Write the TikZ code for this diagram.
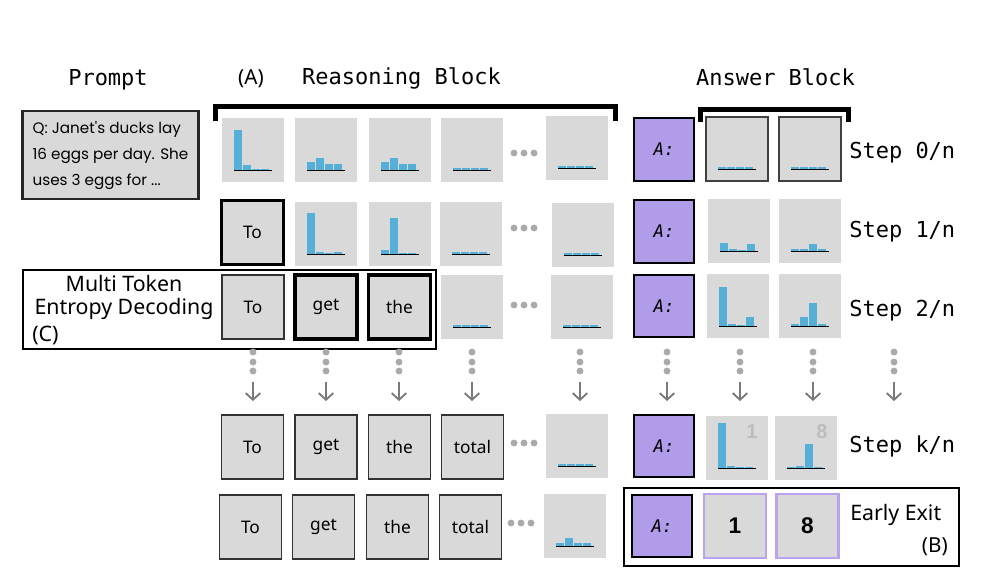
\documentclass[tikz,border=0pt]{standalone}
\usepackage{fontspec}
\setmainfont{Noto Sans}
\setmonofont{DejaVu Sans Mono}
\newfontfamily\promptfont{Poppins}
\newfontfamily\digitfont{Liberation Sans}
\usetikzlibrary{arrows.meta}

\definecolor{cellgray}{HTML}{D9D9D9}
\definecolor{barblue}{HTML}{56AFD6}
\definecolor{answerviolet}{HTML}{B19CE9}
\definecolor{exitviolet}{HTML}{B9A3EF}
\definecolor{dotgray}{HTML}{AAAAAA}
\definecolor{arrowgray}{HTML}{7A7A7A}
\definecolor{hintgray}{HTML}{BDBDBD}

\tikzset{
  cell/.style={fill=cellgray, minimum width=46.5pt, minimum height=48pt, inner sep=0pt},
  token/.style={cell, draw=black!80, line width=1.1pt, font=\fontsize{13}{13}\selectfont},
  picked/.style={cell, draw=black, line width=2.6pt, font=\fontsize{13}{13}\selectfont},
  framedcell/.style={cell, draw=black!75, line width=1.1pt},
  answer/.style={fill=answerviolet, draw=black, line width=1.7pt, minimum width=45pt, minimum height=47pt, inner sep=0pt, font=\ttfamily\itshape\fontsize{13}{13}\selectfont},
  exitcell/.style={cell, draw=exitviolet, line width=1.6pt, font=\digitfont\bfseries\fontsize{17}{17}\selectfont},
  hint/.style={text=hintgray, font=\digitfont\bfseries\fontsize{15}{15}\selectfont, inner sep=0pt},
  title/.style={font=\ttfamily\fontsize{16.5}{16.5}\selectfont},
  steplabel/.style={title, anchor=west, inner sep=0pt},
  tag/.style={font=\fontsize{15.5}{15.5}\selectfont, inner sep=0pt},
  bracket/.style={line width=3.6pt},
  frame/.style={line width=1.7pt},
  flow/.style={draw=arrowgray, line width=1.4pt, -{Straight Barb[length=5pt,width=11pt]}},
}

% four bars and a base line under a cell
\newcommand{\hist}[5]{%
  \begin{scope}[shift={(#1)}]
    \fill[barblue] (-19,20.5) rectangle ++(8,-#2);
    \fill[barblue] (-10,20.5) rectangle ++(8,-#3);
    \fill[barblue] (-1,20.5) rectangle ++(8,-#4);
    \fill[barblue] (8,20.5) rectangle ++(8,-#5);
    \draw[line width=0.8pt] (-19,20.5) -- (19,20.5);
  \end{scope}}

\begin{document}
\begin{tikzpicture}[x=0.75pt, y=-0.75pt]
\useasboundingbox (0,0) rectangle (984,586);

% titles
\node[title] (prompttitle) at (108,80) {Prompt};
\node[tag] (tagA) at (251,79) {(A)};
\node[title] (reasontitle) at (401.5,78) {Reasoning Block};
\node[title] (answertitle) at (775.5,77) {Answer Block};

\draw[bracket] (215.5,121) -- (215.5,106.5) -- (615.5,106.5) -- (615.5,121);
\draw[bracket] (700.5,122) -- (700.5,109.5) -- (848.5,109.5) -- (848.5,122);

% prompt
\node[draw=black!85, line width=1.8pt, fill=cellgray, minimum width=132pt, minimum height=66pt,
      align=left, inner sep=4pt, font=\promptfont\fontsize{11.4}{19.5}\selectfont]
  (prompt) at (110.5,155) {Q: Janet's ducks lay\\16 eggs per day. She\\uses 3 eggs for ...};

% frames (C) and (B)
\draw[frame] (23,270) rectangle (436,349);
\draw[frame] (624,488) rectangle (959,566);
\node[font=\fontsize{16}{17}\selectfont, align=center, inner sep=0pt] (mtlabel) at (124,297.5) {Multi Token\\Entropy Decoding};
\node[font=\fontsize{16}{16}\selectfont, anchor=west, inner sep=0pt] (tagC) at (32,335) {(C)};

% reasoning block
\foreach \x [count=\i] in {253,326,400,472} \node[cell] (r0c\i) at (\x,150) {};
\node[cell] (r0c5) at (577,148) {};

\node[picked] (r1c1) at (252.5,232.5) {To};
\foreach \x [count=\i from 2] in {326,400,471} \node[cell] (r1c\i) at (\x,234) {};
\node[cell] (r1c5) at (583,235) {};

\node[token] (r2c1) at (253,307) {To};
\node[picked] (r2c2) at (326,307) {get};
\node[picked] (r2c3) at (399.5,307) {the};
\node[cell] (r2c4) at (472,307) {};
\node[cell] (r2c5) at (582,307) {};

\foreach \x/\w [count=\i] in {252.5/To,326/get,399.5/the,472.5/total} \node[token] (rkc\i) at (\x,447) {\w};
\node[cell] (rkc5) at (577,446) {};

\foreach \x/\w [count=\i] in {250.5/To,323.5/get,397.5/the,470.5/total} \node[token] (rec\i) at (\x,527) {\w};
\node[cell] (rec5) at (575,526) {};

% answer block
\foreach \y [count=\i from 0] in {149.5,231.5,306,446} \node[answer] (ans\i) at (664,\y) {A:};
\node[answer] (ansexit) at (662,526) {A:};

\node[framedcell] (b0c1) at (737,149) {};
\node[framedcell] (b0c2) at (810,149) {};
\node[cell] (b1c1) at (739,231) {};
\node[cell] (b1c2) at (810,231) {};
\node[cell] (b2c1) at (738,306) {};
\node[cell] (b2c2) at (810,306) {};
\node[cell] (bkc1) at (737,448) {};
\node[cell] (bkc2) at (806,448) {};
\node[exitcell] (bec1) at (735,526) {1};
\node[exitcell] (bec2) at (807.5,526) {8};

\node[hint] (hint1) at (752,432) {1};
\node[hint] (hint8) at (822,432) {8};

\node[steplabel] (step0) at (849,153) {Step 0/n};
\node[steplabel] (step1) at (849,232) {Step 1/n};
\node[steplabel] (step2) at (849,311) {Step 2/n};
\node[steplabel] (stepk) at (849,446) {Step k/n};
\node[font=\fontsize{16}{16}\selectfont, anchor=west, inner sep=0pt] (exitlabel) at (850,515) {Early Exit};
\node[tag, anchor=east] (tagB) at (948,547) {(B)};

% distributions
\hist{r0c1}{41}{6}{1.5}{1.5}
\hist{r0c2}{8.3}{12.3}{6.3}{6.3}
\hist{r0c3}{8.3}{12.3}{6.3}{6.3}
\hist{r0c4}{2.3}{2.3}{2.3}{2.3}
\hist{r0c5}{2.3}{2.3}{2.3}{2.3}
\hist{r1c2}{42}{2.3}{1.5}{2.3}
\hist{r1c3}{4.3}{36.7}{1.3}{1.3}
\hist{r1c4}{2.3}{2.3}{2.3}{2.3}
\hist{r1c5}{2.3}{2.3}{2.3}{2.3}
\hist{r2c4}{2.3}{2.3}{2.3}{2.3}
\hist{r2c5}{2.3}{2.3}{2.3}{2.3}
\hist{rkc5}{2.3}{2.3}{2.3}{2.3}
\hist{rec5}{3.3}{8.3}{3.3}{3.3}
\hist{b0c1}{2.3}{2.3}{2.3}{2.3}
\hist{b0c2}{2.3}{2.3}{2.3}{2.3}
\hist{b1c1}{8.3}{2.3}{1.3}{7.3}
\hist{b1c2}{2.3}{2.3}{7.3}{2.3}
\hist{b2c1}{39.3}{2.3}{1.3}{9.3}
\hist{b2c2}{2.3}{9.3}{23.3}{2.3}
\hist{bkc1}{45.3}{2.3}{1.3}{1.3}
\hist{bkc2}{1.3}{2.3}{24.3}{1.3}

% dots
\foreach \y in {153,228,305,443} \foreach \x in {514,524,534} \fill[dotgray] (\x,\y) circle (2.6pt);
\foreach \x in {511,521,531} \fill[dotgray] (\x,523) circle (2.6pt);
\foreach \x in {253,326,399,472,580,667,740,813,894} \foreach \y in {352,362,371} \fill[dotgray] (\x,\y) circle (2.6pt);

% arrows down to step k
\foreach \x [count=\i] in {253,326,399,472,580,667,740,813,894} {
  \coordinate (from\i) at (\x,382);
  \coordinate (to\i) at (\x,401);
  \draw[flow] (from\i) -- (to\i);
}
\end{tikzpicture}
\end{document}
